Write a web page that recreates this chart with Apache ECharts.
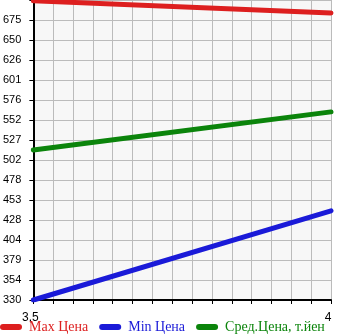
<!DOCTYPE html>
<html><head><meta charset="utf-8">
<script src="https://cdn.jsdelivr.net/npm/echarts@6/dist/echarts.min.js"></script>
<style>html,body{margin:0;padding:0;background:#fff}#c{width:345px;height:335px}</style>
</head><body><div id="c"></div>
<script>
const xValues = [3.5, 4];
const maxPrice = [699, 684];
const minPrice = [330, 440];
const avgPrice = [515, 562];
const seriesNames = ['Max Цена', 'Min Цена', 'Сред.Цена, т.йен'];
const yTickLabels = ['330','354','379','404','428','453','478','502','527','552','576','601','626','650','675'];
const xTickLabels = ['3,5', '4'];
const yMin = 330, yMax = 700, ySteps = 15;
const xMin = 3.5, xMax = 4, xSteps = 15;

const colors = ['#dd1f1f', '#1a1ad8', '#0b840b'];
const yTicks = []; for (let i = 0; i <= ySteps; i++) yTicks.push(yMin + i * (yMax - yMin) / ySteps);
const xTicks = []; for (let i = 0; i <= xSteps; i++) xTicks.push(xMin + i * (xMax - xMin) / xSteps);
const yLabelVals = yTicks.slice(0, yTickLabels.length);

const chart = echarts.init(document.getElementById('c'), null, {renderer: 'canvas'});
const mk = (name, vals, i) => ({
  name, type: 'line', data: xValues.map((x, k) => [x, vals[k]]),
  showSymbol: false, symbol: 'none',
  lineStyle: {width: 5, color: colors[i], cap: 'round'},
  itemStyle: {color: colors[i]}, animation: false
});
chart.setOption({
  animation: false,
  grid: {left: 31, right: 14, top: 0, bottom: 35, show: true, backgroundColor: '#f7f7f7', borderWidth: 0},
  xAxis: {
    type: 'value', min: xMin, max: xMax,
    axisLine: {show: true, lineStyle: {color: '#000', width: 2}},
    axisTick: {show: true, customValues: xTicks, length: 4, lineStyle: {color: '#000'}},
    splitLine: {show: true, lineStyle: {color: '#bbbbbb', width: 1}},
    axisLabel: {customValues: xValues, formatter: v => xTickLabels[xValues.indexOf(v)] ?? '', color: '#000',
      fontFamily: 'Liberation Sans', fontSize: 12, margin: 12, padding: [0,6,0,0]}
  },
  yAxis: {
    type: 'value', min: yMin, max: yMax,
    axisLine: {show: true, lineStyle: {color: '#000', width: 2}},
    axisTick: {show: true, customValues: yTicks, length: 4, lineStyle: {color: '#000'}},
    splitLine: {show: true, lineStyle: {color: '#bbbbbb', width: 1}},
    axisLabel: {customValues: yLabelVals,
      formatter: v => yTickLabels[Math.round((v - yMin) / ((yMax - yMin) / ySteps))] ?? '',
      color: '#000', fontFamily: 'Liberation Sans', fontSize: 11, margin: 12, padding: [0,0,6,0]}
  },
  legend: {
    left: 0, top: 320, padding: 0, itemGap: 11, itemWidth: 22, itemHeight: 6,
    icon: 'path://M3,0 L19,0 A3,3 0 0 1 19,6 L3,6 A3,3 0 0 1 3,0 Z',
    textStyle: {fontFamily: 'Liberation Serif', fontSize: 14, padding: [0,0,0,2]},
    data: seriesNames.map((n, i) => ({name: n, textStyle: {color: colors[i]}}))
  },
  series: [mk(seriesNames[0], maxPrice, 0), mk(seriesNames[1], minPrice, 1), mk(seriesNames[2], avgPrice, 2)]
});
</script></body></html>
